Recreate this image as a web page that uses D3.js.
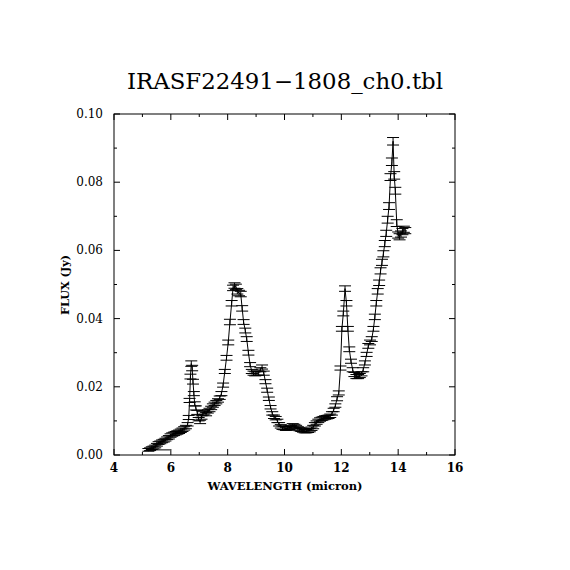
<!DOCTYPE html>
<html>
<head>
<meta charset="utf-8">
<script src="https://d3js.org/d3.v7.min.js"></script>
<style>
  body { margin: 0; background: #fff; }
  text { font-family: "DejaVu Serif", "Liberation Serif", serif; fill: #000; }
</style>
</head>
<body>
<svg id="vis"></svg>
<script>
  var visWidth = 570
  var visHeight = 570

  var titleText = 'IRASF22491\u22121808_ch0.tbl'
  var xTitle = 'WAVELENGTH (micron)'
  var yTitle = 'FLUX (Jy)'

  // spectrum, micron / Jy
  var wavelength = [
    5.21, 5.27, 5.33, 5.39, 5.45, 5.51, 5.57, 5.63, 5.69, 5.75,
    5.81, 5.87, 5.93, 5.99, 6.05, 6.11, 6.17, 6.23, 6.29, 6.35,
    6.41, 6.47, 6.53, 6.59, 6.63, 6.66, 6.69, 6.72, 6.75, 6.78,
    6.81, 6.84, 6.88, 6.93, 6.98, 7.03, 7.08, 7.13, 7.18, 7.24,
    7.30, 7.36, 7.42, 7.48, 7.54, 7.60,
    7.66, 7.72, 7.78, 7.84, 7.90, 7.96, 8.02, 8.08, 8.14, 8.19,
    8.24, 8.29, 8.34, 8.40, 8.46, 8.51, 8.56, 8.62, 8.67, 8.73,
    8.79, 8.85, 8.91, 8.97, 9.03, 9.09, 9.15, 9.21, 9.27, 9.33,
    9.39, 9.45, 9.51, 9.57, 9.63, 9.69, 9.75, 9.81, 9.87, 9.93,
    9.99, 10.05, 10.11, 10.17, 10.23, 10.29, 10.35, 10.41, 10.47, 10.53,
    10.59, 10.65, 10.71, 10.77, 10.83, 10.89, 10.95, 11.01, 11.07, 11.13,
    11.19, 11.25, 11.31, 11.37, 11.43, 11.49, 11.55, 11.61, 11.67, 11.73,
    11.79, 11.85, 11.91, 11.97, 12.02, 12.07, 12.13, 12.18, 12.23, 12.28,
    12.34, 12.40, 12.46, 12.53, 12.59, 12.65, 12.71, 12.77, 12.83, 12.89,
    12.95, 13.01, 13.07, 13.13, 13.18, 13.23, 13.28, 13.33, 13.38, 13.43,
    13.48, 13.53, 13.58, 13.63, 13.68, 13.73, 13.78, 13.82, 13.86, 13.90,
    13.95, 14.00, 14.05, 14.10, 14.15, 14.20, 14.25
  ]
  var flux = [
    0.0015, 0.0017, 0.0020, 0.0022, 0.0025, 0.0030, 0.0035, 0.0037, 0.0040, 0.0042,
    0.0045, 0.0049, 0.0052, 0.0057, 0.0060, 0.0062, 0.0064, 0.0066, 0.0068, 0.0071,
    0.0074, 0.0078, 0.0082, 0.0090, 0.0110, 0.0160, 0.0230, 0.0268, 0.0255, 0.0215,
    0.0180, 0.0150, 0.0138, 0.0125, 0.0105, 0.0097, 0.0110, 0.0122, 0.0125, 0.0120,
    0.0128, 0.0132, 0.0138, 0.0145, 0.0150, 0.0155,
    0.0160, 0.0168, 0.0180, 0.0205, 0.0245, 0.0285, 0.0330, 0.0390, 0.0445, 0.0490,
    0.0497, 0.0493, 0.0480, 0.0475, 0.0472, 0.0430, 0.0390, 0.0365, 0.0340, 0.0300,
    0.0265, 0.0245, 0.0240, 0.0238, 0.0240, 0.0240, 0.0250, 0.0258, 0.0240, 0.0215,
    0.0190, 0.0165, 0.0140, 0.0122, 0.0112, 0.0108, 0.0100, 0.0090, 0.0084, 0.0080,
    0.0079, 0.0077, 0.0078, 0.0080, 0.0082, 0.0087, 0.0085, 0.0082, 0.0078, 0.0076,
    0.0074, 0.0072, 0.0070, 0.0070, 0.0071, 0.0073, 0.0077, 0.0082, 0.0090, 0.0095,
    0.0100, 0.0104, 0.0106, 0.0108, 0.0110, 0.0111, 0.0112, 0.0115, 0.0122, 0.0132,
    0.0145, 0.0165, 0.0182, 0.0255, 0.0370, 0.0415, 0.0488, 0.0445, 0.0370, 0.0310,
    0.0275, 0.0250, 0.0236, 0.0230, 0.0230, 0.0233, 0.0238, 0.0250, 0.0270, 0.0295,
    0.0320, 0.0330, 0.0340, 0.0370, 0.0405, 0.0445, 0.0480, 0.0505, 0.0540, 0.0565,
    0.0590, 0.0620, 0.0650, 0.0690, 0.0730, 0.0815, 0.0860, 0.0920, 0.0820, 0.0775,
    0.0680, 0.0645, 0.0640, 0.0648, 0.0655, 0.0662, 0.0658
  ]
  var fluxErr = [
    0.0004, 0.0004, 0.0004, 0.0004, 0.0004, 0.0004, 0.0004, 0.0004, 0.0004, 0.0004,
    0.0004, 0.0004, 0.0005, 0.0005, 0.0005, 0.0005, 0.0005, 0.0005, 0.0005, 0.0005,
    0.0005, 0.0005, 0.0005, 0.0005, 0.0006, 0.0006, 0.0007, 0.0008, 0.0008, 0.0007,
    0.0006, 0.0006, 0.0006, 0.0006, 0.0005, 0.0005, 0.0005, 0.0005, 0.0005, 0.0005,
    0.0005, 0.0005, 0.0005, 0.0005, 0.0005, 0.0005,
    0.0005, 0.0005, 0.0006, 0.0006, 0.0006, 0.0007, 0.0007, 0.0008, 0.0008, 0.0008,
    0.0008, 0.0008, 0.0008, 0.0008, 0.0008, 0.0008, 0.0007, 0.0007, 0.0007, 0.0007,
    0.0006, 0.0006, 0.0006, 0.0006, 0.0006, 0.0006, 0.0006, 0.0006, 0.0006, 0.0006,
    0.0006, 0.0005, 0.0005, 0.0005, 0.0005, 0.0005, 0.0005, 0.0005, 0.0005, 0.0005,
    0.0005, 0.0005, 0.0005, 0.0005, 0.0005, 0.0005, 0.0005, 0.0005, 0.0005, 0.0005,
    0.0005, 0.0005, 0.0005, 0.0005, 0.0005, 0.0005, 0.0005, 0.0005, 0.0005, 0.0005,
    0.0005, 0.0005, 0.0005, 0.0005, 0.0005, 0.0005, 0.0005, 0.0005, 0.0005, 0.0005,
    0.0005, 0.0006, 0.0006, 0.0006, 0.0007, 0.0007, 0.0008, 0.0008, 0.0007, 0.0007,
    0.0006, 0.0006, 0.0006, 0.0006, 0.0006, 0.0006, 0.0006, 0.0006, 0.0006, 0.0006,
    0.0007, 0.0007, 0.0007, 0.0007, 0.0008, 0.0008, 0.0008, 0.0008, 0.0009, 0.0009,
    0.0009, 0.0009, 0.0009, 0.0010, 0.0010, 0.0010, 0.0011, 0.0011, 0.0011, 0.0010,
    0.0010, 0.0009, 0.0009, 0.0009, 0.0009, 0.0009, 0.0009
  ]

  // odd flat segment near the bottom between 5 and 6 micron
  var strayX = [5.13, 5.97]
  var strayY = [0.0015, 0.0015]

  var xTicks = [4, 6, 8, 10, 12, 14, 16]
  var yTicks = [0.00, 0.02, 0.04, 0.06, 0.08, 0.10]

  var plotLeft = 114, plotRight = 455, plotTop = 114, plotBottom = 455
  var capHalf = 6

  var svg = d3.select('#vis')
    .attr('width', visWidth)
    .attr('height', visHeight)

  svg.append('rect')
    .attr('width', visWidth).attr('height', visHeight)
    .attr('fill', 'white')

  var x = d3.scaleLinear().domain([4, 16]).range([plotLeft, plotRight])
  var y = d3.scaleLinear().domain([0, 0.10]).range([plotBottom, plotTop])

  var data = wavelength.map((w, i) => ({ w: w, f: flux[i], e: fluxErr[i] }))

  svg.append('clipPath').attr('id', 'plotClip')
    .append('rect')
    .attr('x', plotLeft).attr('y', plotTop)
    .attr('width', plotRight - plotLeft).attr('height', plotBottom - plotTop)

  var plot = svg.append('g').attr('clip-path', 'url(#plotClip)')

  // spectrum line
  var line = d3.line().x(d => x(d.w)).y(d => y(d.f))
  plot.append('path')
    .datum(data)
    .attr('d', line)
    .attr('fill', 'none')
    .attr('stroke', 'black')
    .attr('stroke-width', 1)

  plot.append('path')
    .datum(strayX.map((w, i) => ({ w: w, f: strayY[i] })))
    .attr('d', line)
    .attr('fill', 'none')
    .attr('stroke', 'black')
    .attr('stroke-width', 1)

  // error bars
  var bars = plot.selectAll('g.err')
    .data(data)
    .enter().append('g').attr('class', 'err')
    .attr('stroke', 'black')
    .attr('stroke-width', 1)

  bars.append('line')
    .attr('x1', d => x(d.w)).attr('x2', d => x(d.w))
    .attr('y1', d => y(d.f - d.e)).attr('y2', d => y(d.f + d.e))
  bars.append('line')
    .attr('x1', d => x(d.w) - capHalf).attr('x2', d => x(d.w) + capHalf)
    .attr('y1', d => y(d.f + d.e)).attr('y2', d => y(d.f + d.e))
  bars.append('line')
    .attr('x1', d => x(d.w) - capHalf).attr('x2', d => x(d.w) + capHalf)
    .attr('y1', d => y(d.f - d.e)).attr('y2', d => y(d.f - d.e))

  // frame
  svg.append('rect')
    .attr('x', plotLeft).attr('y', plotTop)
    .attr('width', plotRight - plotLeft).attr('height', plotBottom - plotTop)
    .attr('fill', 'none')
    .attr('stroke', 'black')
    .attr('stroke-width', 1)

  // inward ticks on all four sides
  var xMinor = d3.range(4, 16.001, 1)
  var yMinor = d3.range(0, 0.1001, 0.01)
  var ticks = svg.append('g').attr('stroke', 'black').attr('stroke-width', 1)

  xMinor.forEach(function(v) {
    var len = (Math.round(v) % 2 === 0) ? 6 : 3
    ticks.append('line').attr('x1', x(v)).attr('x2', x(v)).attr('y1', plotBottom).attr('y2', plotBottom - len)
    ticks.append('line').attr('x1', x(v)).attr('x2', x(v)).attr('y1', plotTop).attr('y2', plotTop + len)
  })
  yMinor.forEach(function(v, i) {
    var len = (i % 2 === 0) ? 6 : 3
    ticks.append('line').attr('y1', y(v)).attr('y2', y(v)).attr('x1', plotLeft).attr('x2', plotLeft + len)
    ticks.append('line').attr('y1', y(v)).attr('y2', y(v)).attr('x1', plotRight).attr('x2', plotRight - len)
  })

  // tick labels
  svg.selectAll('text.xl')
    .data(xTicks)
    .enter().append('text')
    .attr('class', 'xl')
    .attr('x', d => x(d))
    .attr('y', 472)
    .attr('text-anchor', 'middle')
    .attr('font-size', 12)
    .attr('font-weight', 'bold')
    .text(d => d)

  svg.selectAll('text.yl')
    .data(yTicks)
    .enter().append('text')
    .attr('class', 'yl')
    .attr('x', 103)
    .attr('y', d => y(d) + 4)
    .attr('text-anchor', 'end')
    .attr('font-size', 12)
    .text(d => d.toFixed(2))

  // titles
  svg.append('text')
    .attr('x', 285).attr('y', 89)
    .attr('text-anchor', 'middle')
    .attr('font-family', '"Liberation Serif", serif')
    .attr('font-size', 22)
    .attr('textLength', 316)
    .attr('lengthAdjust', 'spacingAndGlyphs')
    .text(titleText)

  svg.append('text')
    .attr('x', 285).attr('y', 490)
    .attr('text-anchor', 'middle')
    .attr('font-size', 11)
    .attr('font-weight', 'bold')
    .attr('textLength', 155)
    .attr('lengthAdjust', 'spacingAndGlyphs')
    .text(xTitle)

  svg.append('text')
    .attr('transform', 'translate(69,285) rotate(-90)')
    .attr('text-anchor', 'middle')
    .attr('font-size', 11)
    .attr('font-weight', 'bold')
    .attr('textLength', 60)
    .attr('lengthAdjust', 'spacingAndGlyphs')
    .text(yTitle)
</script>
</body>
</html>
